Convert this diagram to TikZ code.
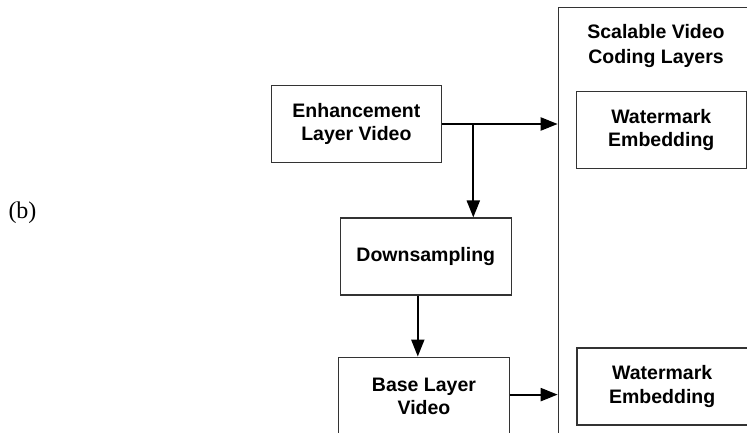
\documentclass[tikz,border=0pt]{standalone}
\usepackage{fontspec}
\newfontfamily\boxfont{Liberation Sans}
\newfontfamily\labelfont{Liberation Serif}
\usetikzlibrary{arrows.meta}
\usetikzlibrary {positioning}
\tikzset{main box/.style={rectangle,draw={black!80},fill=white,line width=1.1pt,minimum width=170.5pt,minimum height=77pt,inner sep=0pt,align=center,font=\boxfont\bfseries\fontsize{19.5}{23.5}\selectfont}}
\tikzset{main arrow/.style={-{Triangle[length=17pt,width=13pt]},line width=2pt}}

\begin{document}
\begin{tikzpicture}[x=1pt,y=1pt]
    	\useasboundingbox (0,0) rectangle (747,432);
    	\node[main box,minimum width=197pt,minimum height=440pt,anchor=north west] (svc) at (557.7,425) {};
    	\node[align=center,inner sep=0pt,font=\boxfont\bfseries\fontsize{19.5}{25}\selectfont] (title) at (656,385.5) {Scalable Video\\Coding Layers};
    	\node[main box] (b_{1}) at (356.4,308) {Enhancement\\Layer Video};
    	\node[main box] (b_{2}) [below = 54.4pt of b_{1}, xshift=69.4pt] {Downsampling};
		\node[main box,minimum height=79pt] (b_{3}) [below = 61pt of b_{2}, xshift=-1.8pt] {Base Layer\\Video};
    	\node[main box] (w_{1}) [right = 133.3pt of b_{1}, yshift=-6pt] {Watermark\\Embedding};
    	\node[main box] (w_{2}) [below = 178.4pt of w_{1}, xshift=0.9pt] {Watermark\\Embedding};
    	\node[font=\labelfont\fontsize{24}{28}\selectfont] (label) at (22.5,219) {(b)};
    	\coordinate (split) at (473.3,308);
    
    	\path [main arrow]
    	(b_{1}) edge (b_{1} -| svc.west)
    	(split) edge (split |- b_{2}.north)
    	([xshift=-8pt]b_{2}.south) edge ([xshift=-8pt]b_{2}.south |- b_{3}.north)
    	([yshift=2pt]b_{3}.east) edge ([yshift=2pt]b_{3}.east -| svc.west);
    	
    \end{tikzpicture}
\end{document}
